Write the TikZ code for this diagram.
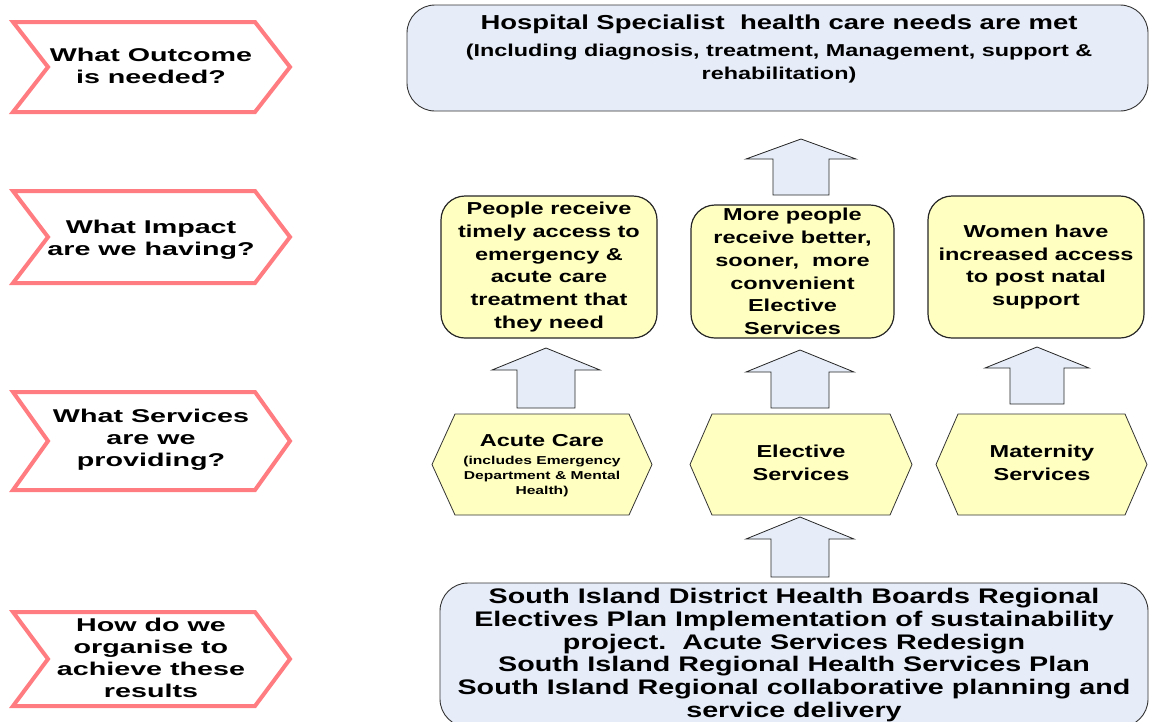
\documentclass[tikz,border=0pt]{standalone}
\usepackage{fontspec}
\setmainfont{Liberation Sans}[FakeStretch=1.36]
\newfontfamily\chevfont{Liberation Sans}[FakeStretch=1.55]
\usepackage{tikz}
\usetikzlibrary{positioning, calc}

\definecolor{chevred}{RGB}{255,124,128}
\definecolor{paleblue}{RGB}{230,236,248}
\definecolor{paleyellow}{RGB}{255,255,194}

\begin{document}
\begin{tikzpicture}[x=1pt, y=-1pt,
    chev/.style={draw=chevred, line width=4pt, fill=white, line join=miter},
    question/.style={font=\chevfont\bfseries\fontsize{18.5}{22}\selectfont, align=center},
    bluebox/.style={draw=black!80, fill=paleblue, rounded corners=28pt, line width=0.9pt},
    impactbox/.style={draw=black!85, fill=paleyellow, rounded corners=24pt, line width=1.2pt, inner sep=0pt, align=center, font=\bfseries\fontsize{17.3}{22.8}\selectfont},
    hexbox/.style={draw=black!80, fill=paleyellow, line width=0.8pt},
    hextext/.style={anchor=base, align=center, font=\bfseries\fontsize{17.3}{23}\selectfont},
    blockarrow/.style={draw=black!85, fill=paleblue, line width=0.8pt, line join=miter}
]
    \useasboundingbox (0,0) rectangle (1150,721);
    \clip (0,0) rectangle (1150,721);

    % Questions down the left side
    \foreach \yc/\hh/\dy/\txt [count=\i] in {67/45/-1/{What Outcome\\is needed?},
        237/46/3/{What Impact\\are we having?},
        441/49/-1/{What Services\\are we\\providing?},
        659/47/-1/{How do we\\organise to\\achieve these\\results}} {
        \draw[chev] (13,\yc-\hh) -- (255,\yc-\hh) -- (290,\yc) -- (255,\yc+\hh) -- (13,\yc+\hh) -- (48,\yc) -- cycle;
        \node[question] (q\i) at (151,\yc+\dy) {\txt};
    }

    % Outcome
    \node[bluebox, minimum width=741pt, minimum height=106pt] (outcome) at (777.5,58) {};
    \node[anchor=base, font=\bfseries\fontsize{20.2}{24}\selectfont] (outtitle) at (779,29) {Hospital Specialist\ \ health care needs are met};
    \node[anchor=base, align=center, font=\bfseries\fontsize{17.2}{23}\selectfont] (outnote) at (779,79) {(Including diagnosis, treatment, Management, support \&\\rehabilitation)};

    % Impact boxes
    \node[impactbox, minimum width=216pt, minimum height=142pt] (imp1) at (549,267) {People receive\\timely access to\\emergency \&\\acute care\\treatment that\\they need};
    \node[impactbox, minimum width=203pt, minimum height=133pt] (imp2) at (792.5,271.5) {More people\\receive better,\\sooner,\ \ more\\convenient\\Elective\\Services};
    \node[impactbox, minimum width=216pt, minimum height=142pt] (imp3) at (1036,267) {Women have\\increased access\\to post natal\\support};

    % Services
    \draw[hexbox] (432,464.5) -- (455,414) -- (629,414) -- (652,464.5) -- (629,515) -- (455,515) -- cycle;
    \draw[hexbox] (690,464.5) -- (712,414) -- (890,414) -- (912,464.5) -- (890,515) -- (712,515) -- cycle;
    \draw[hexbox] (936,464.5) -- (958,414) -- (1125,414) -- (1147,464.5) -- (1125,515) -- (958,515) -- cycle;
    \node[hextext] (acute) at (542,446) {Acute Care};
    \node[hextext, font=\bfseries\fontsize{11.5}{15}\selectfont] (acutenote) at (542,494) {(includes Emergency\\Department \& Mental\\Health)};
    \node[hextext] (elective) at (801,480) {Elective\\Services};
    \node[hextext] (maternity) at (1042,480) {Maternity\\Services};

    % Organisation
    \node[bluebox, inner sep=0pt, minimum width=708pt, minimum height=144pt, align=center,
        font=\bfseries\fontsize{21.1}{22.7}\selectfont] (plan) at (794,655) {South Island District Health Boards Regional\\Electives Plan Implementation of sustainability\\project.\ \ Acute Services Redesign\\South Island Regional Health Services Plan\\South Island Regional collaborative planning and\\service delivery};

    % Block arrows
    \foreach \tx/\ty/\len/\hw/\sw/\hd in {801/139/56/55/28/20, 546/348/60/54/29/22,
        800/350/58/54/29/22, 1037/347/57/52/27/21, 800/517/60/54/29/22} {
        \draw[blockarrow] (\tx,\ty) -- (\tx+\hw,\ty+\hd) -- (\tx+\sw,\ty+\hd) -- (\tx+\sw,\ty+\len)
            -- (\tx-\sw,\ty+\len) -- (\tx-\sw,\ty+\hd) -- (\tx-\hw,\ty+\hd) -- cycle;
    }
\end{tikzpicture}
\end{document}
